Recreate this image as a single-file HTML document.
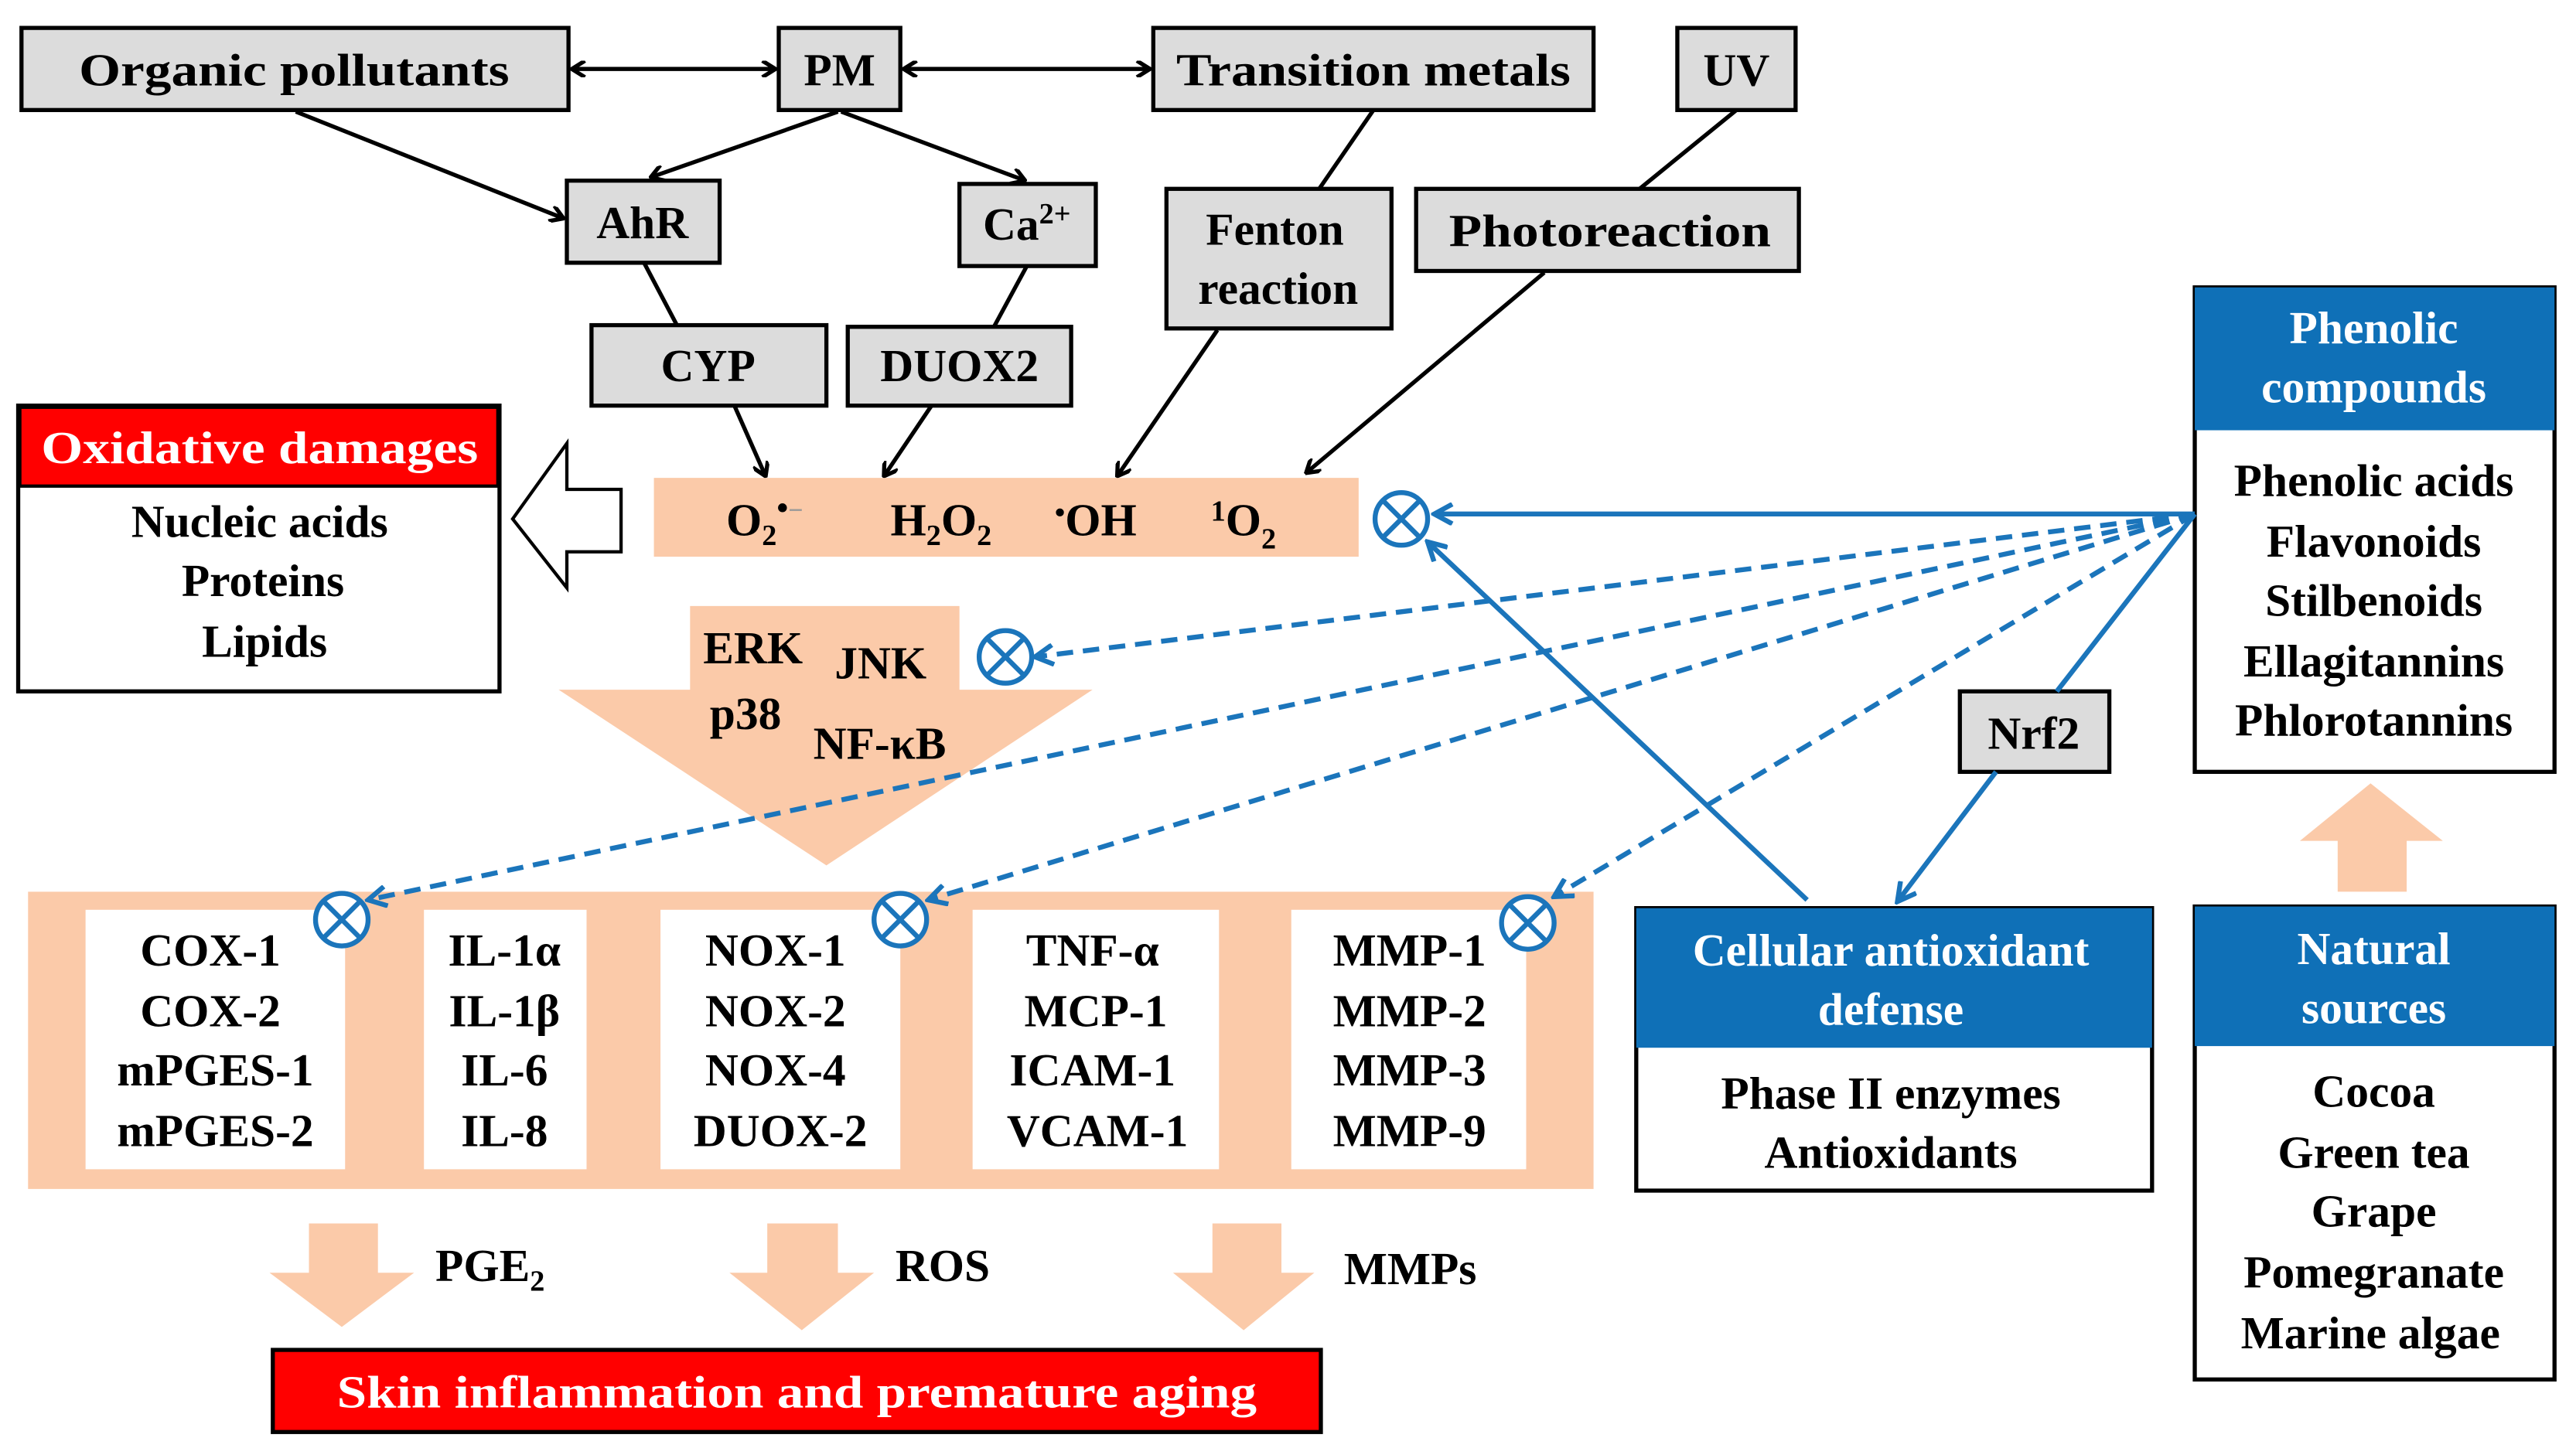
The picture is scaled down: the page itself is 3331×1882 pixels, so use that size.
<!DOCTYPE html>
<html><head><meta charset="utf-8"><style>
html,body{margin:0;padding:0;background:#fff;}
svg{display:block;}
text{font-family:"Liberation Serif",serif;font-weight:bold;font-size:28px;fill:#000;}
</style></head><body>
<svg width="3331" height="1882" viewBox="0 0 1568 886" xmlns="http://www.w3.org/2000/svg">
<defs>
<marker id="ab" markerWidth="10" markerHeight="10" refX="9" refY="5" orient="auto-start-reverse" markerUnits="userSpaceOnUse"><path d="M1,0 L9,5 L1,10" fill="none" stroke="#000" stroke-width="2.5"/></marker>
<marker id="bl" markerWidth="14" markerHeight="14" refX="12" refY="7" orient="auto" markerUnits="userSpaceOnUse"><path d="M1,1 L12,7 L1,13" fill="none" stroke="#1b75bb" stroke-width="3"/></marker>
</defs>
<g fill="#dcdcdc" stroke="#000" stroke-width="2.5">
<rect x="13" y="17" width="333" height="50"/>
<rect x="474" y="17" width="74" height="50"/>
<rect x="702" y="17" width="268" height="50"/>
<rect x="1021" y="17" width="72" height="50"/>
<rect x="345" y="110" width="93" height="50"/>
<rect x="584" y="112" width="83" height="50"/>
<rect x="710" y="115" width="137" height="85"/>
<rect x="862" y="115" width="233" height="50"/>
<rect x="360" y="198" width="143" height="49"/>
<rect x="516" y="199" width="136" height="48"/>
<rect x="1193" y="421" width="91" height="49"/>
</g>
<g text-anchor="middle">
<text x="179" y="52" textLength="262" lengthAdjust="spacingAndGlyphs">Organic pollutants</text>
<text x="511" y="52">PM</text>
<text x="836" y="52" textLength="240" lengthAdjust="spacingAndGlyphs">Transition metals</text>
<text x="1057" y="52">UV</text>
<text x="391" y="145">AhR</text>
<text x="625" y="146">Ca<tspan font-size="18" dy="-10">2+</tspan></text>
<text x="776" y="149">Fenton</text>
<text x="778" y="185">reaction</text>
<text x="980" y="150" textLength="196" lengthAdjust="spacingAndGlyphs">Photoreaction</text>
<text x="431" y="232">CYP</text>
<text x="584" y="232">DUOX2</text>
<text x="1238" y="456">Nrf2</text>
</g>
<!-- black connectors -->
<g stroke="#000" stroke-width="2.5" fill="none">
<line x1="348" y1="42" x2="472" y2="42" marker-start="url(#ab)" marker-end="url(#ab)"/>
<line x1="550" y1="42" x2="700" y2="42" marker-start="url(#ab)" marker-end="url(#ab)"/>
<line x1="180" y1="68" x2="343" y2="133" marker-end="url(#ab)"/>
<line x1="510" y1="68" x2="396" y2="108" marker-end="url(#ab)"/>
<line x1="512" y1="68" x2="624" y2="110" marker-end="url(#ab)"/>
<line x1="836" y1="67" x2="803" y2="115"/>
<line x1="1057" y1="67" x2="998" y2="115"/>
<line x1="392" y1="160" x2="412" y2="198"/>
<line x1="625" y1="162" x2="605" y2="199"/>
<line x1="447" y1="247" x2="466" y2="290" marker-end="url(#ab)"/>
<line x1="567" y1="247" x2="538" y2="290" marker-end="url(#ab)"/>
<line x1="741" y1="201" x2="680" y2="290" marker-end="url(#ab)"/>
<line x1="940" y1="166" x2="795" y2="288" marker-end="url(#ab)"/>
</g>
<!-- Oxidative damages -->
<rect x="11" y="247" width="293" height="174" fill="#fff" stroke="#000" stroke-width="2.5"/>
<rect x="12" y="248" width="291" height="48" fill="#ff0000" stroke="#000" stroke-width="2"/>
<text x="158" y="282" text-anchor="middle" fill="#fff" style="fill:#fff" textLength="266" lengthAdjust="spacingAndGlyphs">Oxidative damages</text>
<g text-anchor="middle">
<text x="158" y="327">Nucleic acids</text>
<text x="160" y="363">Proteins</text>
<text x="161" y="400">Lipids</text>
</g>
<path d="M312,316 L345,270 L345,298 L378,298 L378,336 L345,336 L345,358 Z" fill="#fff" stroke="#000" stroke-width="2"/>
<!-- ROS band -->
<rect x="398" y="291" width="429" height="48" fill="#fbcaa9"/>
<text x="442" y="326">O<tspan font-size="18" dy="6">2</tspan><tspan dy="-16" font-size="20">•</tspan><tspan font-size="16" fill="#888" style="fill:#999">−</tspan></text>
<text x="542" y="326">H<tspan font-size="18" dy="6">2</tspan><tspan dy="-6">O</tspan><tspan font-size="18" dy="6">2</tspan></text>
<text x="642" y="326"><tspan font-size="18" dy="-8">•</tspan><tspan dy="8">OH</tspan></text>
<text x="737" y="326"><tspan font-size="18" dy="-9">1</tspan><tspan dy="9">O</tspan><tspan font-size="18" dy="8">2</tspan></text>
<!-- big down arrow -->
<path d="M420,369 L584,369 L584,420 L665,420 L503,527 L340,420 L420,420 Z" fill="#fbcaa9"/>
<text x="428" y="404">ERK</text>
<text x="508" y="413">JNK</text>
<text x="432" y="444">p38</text>
<text x="495" y="462">NF-κB</text>
<!-- mediators band -->
<rect x="17" y="543" width="953" height="181" fill="#fbcaa9"/>
<g fill="#fff">
<rect x="52" y="554" width="158" height="158"/>
<rect x="258" y="554" width="99" height="158"/>
<rect x="402" y="554" width="146" height="158"/>
<rect x="592" y="554" width="150" height="158"/>
<rect x="786" y="554" width="143" height="158"/>
</g>
<g text-anchor="middle">
<text x="128" y="588">COX-1</text><text x="128" y="625">COX-2</text><text x="131" y="661">mPGES-1</text><text x="131" y="698">mPGES-2</text>
<text x="307" y="588">IL-1α</text><text x="307" y="625">IL-1β</text><text x="307" y="661">IL-6</text><text x="307" y="698">IL-8</text>
<text x="472" y="588">NOX-1</text><text x="472" y="625">NOX-2</text><text x="472" y="661">NOX-4</text><text x="475" y="698">DUOX-2</text>
<text x="665" y="588">TNF-α</text><text x="667" y="625">MCP-1</text><text x="665" y="661">ICAM-1</text><text x="668" y="698">VCAM-1</text>
<text x="858" y="588">MMP-1</text><text x="858" y="625">MMP-2</text><text x="858" y="661">MMP-3</text><text x="858" y="698">MMP-9</text>
</g>
<!-- small arrows -->
<g fill="#fbcaa9">
<path d="M188,745 L230,745 L230,775 L252,775 L208,808 L164,775 L188,775 Z"/>
<path d="M467,745 L510,745 L510,775 L532,775 L488,810 L444,775 L467,775 Z"/>
<path d="M738,745 L780,745 L780,775 L800,775 L757,810 L714,775 L738,775 Z"/>
</g>
<text x="265" y="780">PGE<tspan font-size="18" dy="6">2</tspan></text>
<text x="545" y="780">ROS</text>
<text x="818" y="782">MMPs</text>
<rect x="166" y="822" width="638" height="50" fill="#ff0000" stroke="#000" stroke-width="2.5"/>
<text x="485" y="857" text-anchor="middle" style="fill:#fff" textLength="560" lengthAdjust="spacingAndGlyphs">Skin inflammation and premature aging</text>
<!-- Phenolic compounds -->
<rect x="1336" y="175" width="219" height="295" fill="#fff" stroke="#000" stroke-width="2.5"/>
<rect x="1336" y="175" width="219" height="87" fill="#0f70b7"/>
<g text-anchor="middle">
<text x="1445" y="209" style="fill:#fff">Phenolic</text>
<text x="1445" y="245" style="fill:#fff">compounds</text>
<text x="1445" y="302">Phenolic acids</text>
<text x="1445" y="339">Flavonoids</text>
<text x="1445" y="375">Stilbenoids</text>
<text x="1445" y="412">Ellagitannins</text>
<text x="1445" y="448">Phlorotannins</text>
</g>
<path d="M1443,477 L1487,512 L1465,512 L1465,543 L1423,543 L1423,512 L1400,512 Z" fill="#fbcaa9"/>
<!-- Natural sources -->
<rect x="1336" y="552" width="219" height="288" fill="#fff" stroke="#000" stroke-width="2.5"/>
<rect x="1336" y="552" width="219" height="85" fill="#0f70b7"/>
<g text-anchor="middle">
<text x="1445" y="587" style="fill:#fff">Natural</text>
<text x="1445" y="623" style="fill:#fff">sources</text>
<text x="1445" y="674">Cocoa</text>
<text x="1445" y="711">Green tea</text>
<text x="1445" y="747">Grape</text>
<text x="1445" y="784">Pomegranate</text>
<text x="1443" y="821">Marine algae</text>
</g>
<!-- Cellular antioxidant defense -->
<rect x="996" y="553" width="314" height="172" fill="#fff" stroke="#000" stroke-width="2.5"/>
<rect x="996" y="553" width="314" height="85" fill="#0f70b7"/>
<g text-anchor="middle">
<text x="1151" y="588" style="fill:#fff">Cellular antioxidant</text>
<text x="1151" y="624" style="fill:#fff">defense</text>
<text x="1151" y="675">Phase II enzymes</text>
<text x="1151" y="711">Antioxidants</text>
</g>
<!-- blue connectors -->
<g stroke="#1b75bb" stroke-width="3" fill="none">
<line x1="1336" y1="313" x2="873" y2="313" marker-end="url(#bl)"/>
<line x1="1336" y1="313" x2="1252" y2="421"/>
<line x1="1215" y1="470" x2="1155" y2="549" marker-end="url(#bl)"/>
<line x1="1100" y1="548" x2="869" y2="330" marker-end="url(#bl)"/>
<g stroke-dasharray="10,6">
<line x1="1336" y1="313" x2="630" y2="400" marker-end="url(#bl)"/>
<line x1="1336" y1="313" x2="224" y2="548" marker-end="url(#bl)"/>
<line x1="1336" y1="313" x2="565" y2="548" marker-end="url(#bl)"/>
<line x1="1336" y1="313" x2="946" y2="546" marker-end="url(#bl)"/>
</g>
</g>
<g stroke="#1b75bb" stroke-width="3" fill="#fff">
<g transform="translate(853,316)"><circle r="16"/><path d="M-11,-11 L11,11 M11,-11 L-11,11"/></g>
<g transform="translate(612,400)"><circle r="16"/><path d="M-11,-11 L11,11 M11,-11 L-11,11"/></g>
<g transform="translate(208,560)"><circle r="16"/><path d="M-11,-11 L11,11 M11,-11 L-11,11"/></g>
<g transform="translate(548,560)"><circle r="16"/><path d="M-11,-11 L11,11 M11,-11 L-11,11"/></g>
<g transform="translate(930,562)"><circle r="16"/><path d="M-11,-11 L11,11 M11,-11 L-11,11"/></g>
</g>
</svg>
</body></html>
